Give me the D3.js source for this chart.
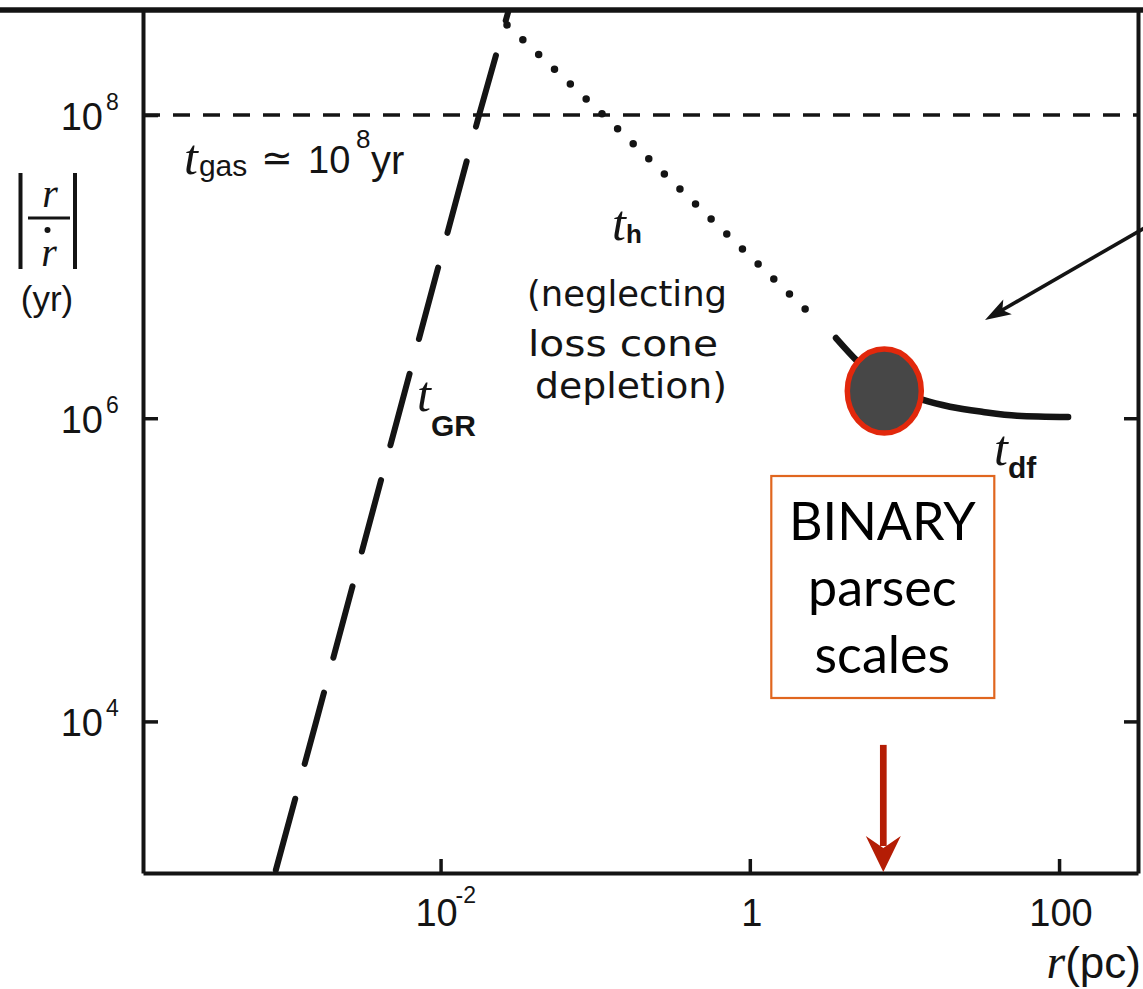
<!DOCTYPE html>
<html><head><meta charset="utf-8">
<script src="https://cdn.jsdelivr.net/npm/d3@7"></script>
<style>html,body{margin:0;padding:0;background:#fff;} svg{display:block;}</style>
</head><body>
<svg id="chart" width="1143" height="989"></svg>
<script>
// ---- axis extents and ticks ----
const rExtent = [1.19e-4, 324];          // r (pc)
const tExtent = [1e3, 4.93e8];           // |r / rdot| (yr)
const rTicks = [1e-2, 1, 100];
const rTickBase = ["10", "1", "100"];
const rTickExp = ["-2", "", ""];
const tTicks = [1e4, 1e6, 1e8];
const tTickBase = ["10", "10", "10"];
const tTickExp = ["4", "6", "8"];

// ---- timescale curves ----
// gravitational radiation, t_GR
const tGR_r = [8.5e-4, 1.57e-3, 5.28e-3, 1.775e-2, 2.76e-2];
const tGR_t = [1e3, 1e4, 1e6, 1e8, 4.93e8];
// hardening, t_h
const tH_r = [0.0269, 0.113, 0.57, 2.28];
const tH_t = [3.93e8, 1e8, 2.03e7, 5.26e6];
// dynamical friction, t_df
const tDF_r = [3.61, 4.94, 7.5, 13.2, 19.7, 32.3, 53.5, 114.4];
const tDF_t = [3.38e6, 2.39e6, 1.66e6, 1.32e6, 1.19e6, 1.10e6, 1.04e6, 1.02e6];
// gas timescale
const tGas = 1e8;
// where the binary forms
const binaryR = 7.3, binaryT = 1.51e6;
// where the side arrow points
const pointerR = 33.2, pointerT = 4.45e6;

const W = 1143, H = 989;
const plot = {left: 143, right: 1138, top: 10, bottom: 873};

const svg = d3.select("#chart");
const x = d3.scaleLog().domain(rExtent).range([plot.left, plot.right]);
const y = d3.scaleLog().domain(tExtent).range([plot.bottom, plot.top]);

const ink = "#141414";
const sans = "'Liberation Sans', Arial, sans-serif";
const serif = "'Liberation Serif', 'Times New Roman', serif";

svg.append("defs").append("clipPath").attr("id", "plotClip")
  .append("rect").attr("x", plot.left).attr("y", plot.top)
  .attr("width", plot.right - plot.left).attr("height", plot.bottom - plot.top);

const zip = (a, b) => a.map((v, i) => [v, b[i]]);
const line = d3.line().x(d => x(d[0])).y(d => y(d[1]));

// ---- gas timescale (horizontal dashed) ----
svg.append("line")
  .attr("x1", plot.left).attr("x2", plot.right)
  .attr("y1", y(tGas)).attr("y2", y(tGas))
  .attr("stroke", ink).attr("stroke-width", 3.5)
  .attr("stroke-dasharray", "17,13");

const curves = svg.append("g").attr("clip-path", "url(#plotClip)");

// t_GR long dashes
curves.append("path").datum(zip(tGR_r, tGR_t))
  .attr("d", line).attr("fill", "none")
  .attr("stroke", ink).attr("stroke-width", 6)
  .attr("stroke-linecap", "round")
  .attr("stroke-dasharray", "74,36").attr("stroke-dashoffset", -3);

// t_h dotted
curves.append("path").datum(zip(tH_r, tH_t))
  .attr("d", line).attr("fill", "none")
  .attr("stroke", ink).attr("stroke-width", 7.5)
  .attr("stroke-linecap", "round")
  .attr("stroke-dasharray", "0,21.67");

// t_df solid
curves.append("path").datum(zip(tDF_r, tDF_t))
  .attr("d", line.curve(d3.curveMonotoneX)).attr("fill", "none")
  .attr("stroke", ink).attr("stroke-width", 6.5)
  .attr("stroke-linecap", "round");

// ---- axes ----
const axisStyle = g => {
  g.selectAll(".domain").attr("stroke", ink).attr("stroke-width", 4);
  g.selectAll(".tick line").attr("stroke", ink).attr("stroke-width", 3.5);
  g.selectAll(".tick text").remove();
};
svg.append("g").attr("transform", `translate(0,${plot.bottom})`)
  .call(d3.axisBottom(x).tickValues(rTicks).tickSize(-14).tickSizeOuter(0).tickFormat(""))
  .call(axisStyle);
svg.append("g").attr("transform", `translate(${plot.left},0)`)
  .call(d3.axisLeft(y).tickValues(tTicks).tickSize(-15).tickSizeOuter(0).tickFormat(""))
  .call(axisStyle);
svg.append("g").attr("transform", `translate(${plot.right},0)`)
  .call(d3.axisRight(y).tickValues(tTicks.filter(t => t < tGas)).tickSize(-14).tickSizeOuter(0).tickFormat(""))
  .call(axisStyle);
// heavy top rule across the full width
svg.append("line").attr("x1", 0).attr("x2", W)
  .attr("y1", plot.top).attr("y2", plot.top)
  .attr("stroke", ink).attr("stroke-width", 5.5);

// ---- tick labels ----
const yLab = svg.append("g").attr("fill", ink).attr("font-family", sans);
tTicks.forEach((t, i) => {
  yLab.append("text").attr("x", 103).attr("y", y(t) + 15)
    .attr("text-anchor", "end").attr("font-size", 38).text(tTickBase[i]);
  yLab.append("text").attr("x", 106).attr("y", y(t) - 5)
    .attr("font-size", 23).text(tTickExp[i]);
});
const xLab = svg.append("g").attr("fill", ink).attr("font-family", sans);
rTicks.forEach((r, i) => {
  const cx = x(r) + (rTickExp[i] ? -4 : 2);
  xLab.append("text").attr("x", cx).attr("y", 926)
    .attr("text-anchor", "middle").attr("font-size", 38).text(rTickBase[i]);
  if (rTickExp[i]) {
    xLab.append("text").attr("x", cx + 19).attr("y", 903)
      .attr("font-size", 23).text(rTickExp[i]);
  }
});

// x-axis title r (pc)
const xt = svg.append("text").attr("x", W - 2).attr("y", 978)
  .attr("text-anchor", "end").attr("fill", ink);
xt.append("tspan").attr("font-family", serif).attr("font-style", "italic")
  .attr("font-size", 48).text("r");
xt.append("tspan").attr("font-family", sans).attr("font-size", 44).text("(pc)");

// y-axis title |r / rdot| (yr)
const yt = svg.append("g").attr("fill", ink).attr("stroke", ink);
yt.append("line").attr("x1", 20.5).attr("x2", 20.5).attr("y1", 173).attr("y2", 269).attr("stroke-width", 4);
yt.append("line").attr("x1", 75).attr("x2", 75).attr("y1", 173).attr("y2", 269).attr("stroke-width", 4);
yt.append("line").attr("x1", 28).attr("x2", 70).attr("y1", 218).attr("y2", 218).attr("stroke-width", 3);
yt.append("text").attr("x", 50).attr("y", 207).attr("stroke", "none")
  .attr("text-anchor", "middle").attr("font-family", serif).attr("font-style", "italic")
  .attr("font-size", 40).text("r");
yt.append("text").attr("x", 49).attr("y", 266).attr("stroke", "none")
  .attr("text-anchor", "middle").attr("font-family", serif).attr("font-style", "italic")
  .attr("font-size", 40).text("r");
yt.append("circle").attr("cx", 47.5).attr("cy", 230).attr("r", 3).attr("stroke", "none");
yt.append("text").attr("x", 47).attr("y", 311).attr("stroke", "none")
  .attr("text-anchor", "middle").attr("font-family", sans).attr("font-size", 35).text("(yr)");

// ---- curve labels ----
const labels = svg.append("g").attr("fill", ink);
function tLabel(xp, yp, sub, subDx, subDy, subSize, bold) {
  const t = labels.append("text").attr("x", xp).attr("y", yp);
  t.append("tspan").attr("font-family", serif).attr("font-style", "italic")
    .attr("font-size", 50).text("t");
  t.append("tspan").attr("dx", subDx).attr("dy", subDy)
    .attr("font-family", sans).attr("font-size", subSize)
    .attr("font-weight", bold ? "bold" : "normal").text(sub);
}
// t_gas ≃ 10^8 yr
tLabel(184, 174, "gas", 1, 2, 30, false);
labels.append("text").attr("x", 261).attr("y", 171)
  .attr("font-family", "'DejaVu Sans', sans-serif").attr("font-size", 38).text("\u2243");
labels.append("text").attr("x", 308).attr("y", 173)
  .attr("font-family", sans).attr("font-size", 38).text("10");
labels.append("text").attr("x", 356).attr("y", 148)
  .attr("font-family", sans).attr("font-size", 26).text("8");
labels.append("text").attr("x", 371).attr("y", 174)
  .attr("font-family", sans).attr("font-size", 40).text("yr");

tLabel(612, 240, "h", 0, 3, 26, true);
tLabel(417, 411, "GR", 0, 25, 30, true);
tLabel(994, 465, "df", 0, 13, 30, true);

const noteLines = [["(neglecting", 527, 306, 200], ["loss cone", 528, 356, 190], ["depletion)", 535, 398, 192]];
noteLines.forEach(([s, xp, yp, len]) => {
  labels.append("text").attr("x", xp).attr("y", yp)
    .attr("font-family", "'DejaVu Sans', sans-serif").attr("font-size", 36)
    .attr("textLength", len).attr("lengthAdjust", "spacingAndGlyphs").text(s);
});

// ---- binary marker ----
const bx = x(binaryR), by = y(binaryT);
svg.append("ellipse").attr("cx", bx + 1).attr("cy", by).attr("rx", 37).attr("ry", 42)
  .attr("fill", "#474747").attr("stroke", "#e2280c").attr("stroke-width", 5.5);

// annotation box
const box = svg.append("g");
box.append("rect").attr("x", bx - 112).attr("y", 476).attr("width", 223).attr("height", 222)
  .attr("fill", "none").attr("stroke", "#e0661f").attr("stroke-width", 2.2);
const boxText = [["BINARY", 540], ["parsec", 606], ["scales", 673]];
boxText.forEach(([s, yp]) => {
  box.append("text").attr("x", bx - 1).attr("y", yp).attr("text-anchor", "middle")
    .attr("font-family", "Lato, 'Open Sans', sans-serif").attr("font-size", 52)
    .attr("fill", "#000").text(s);
});

// red arrow down to the axis
const arrowTop = y(7e3), arrowTip = y(tExtent[0]) - 1;
svg.append("line").attr("x1", bx).attr("x2", bx).attr("y1", arrowTop).attr("y2", arrowTip - 26)
  .attr("stroke", "#b41d05").attr("stroke-width", 6.7);
svg.append("path")
  .attr("d", `M${bx},${arrowTip} L${bx - 17.5},${arrowTip - 36} L${bx},${arrowTip - 24} L${bx + 17.5},${arrowTip - 36} Z`)
  .attr("fill", "#b41d05");

// black pointer from the right edge
const px = x(pointerR), py = y(pointerT);
const dir = [170, -98], len = Math.hypot(dir[0], dir[1]);
const ux = dir[0] / len, uy = dir[1] / len;
svg.append("line").attr("x1", px + ux * 18).attr("y1", py + uy * 18)
  .attr("x2", px + dir[0]).attr("y2", py + dir[1])
  .attr("stroke", ink).attr("stroke-width", 3.6);
const hl = 26, hw = 8.5;
svg.append("path")
  .attr("d", `M${px},${py} L${px + ux * hl - uy * hw},${py + uy * hl + ux * hw} L${px + ux * (hl - 6)},${py + uy * (hl - 6)} L${px + ux * hl + uy * hw},${py + uy * hl - ux * hw} Z`)
  .attr("fill", ink);
</script>
</body></html>
